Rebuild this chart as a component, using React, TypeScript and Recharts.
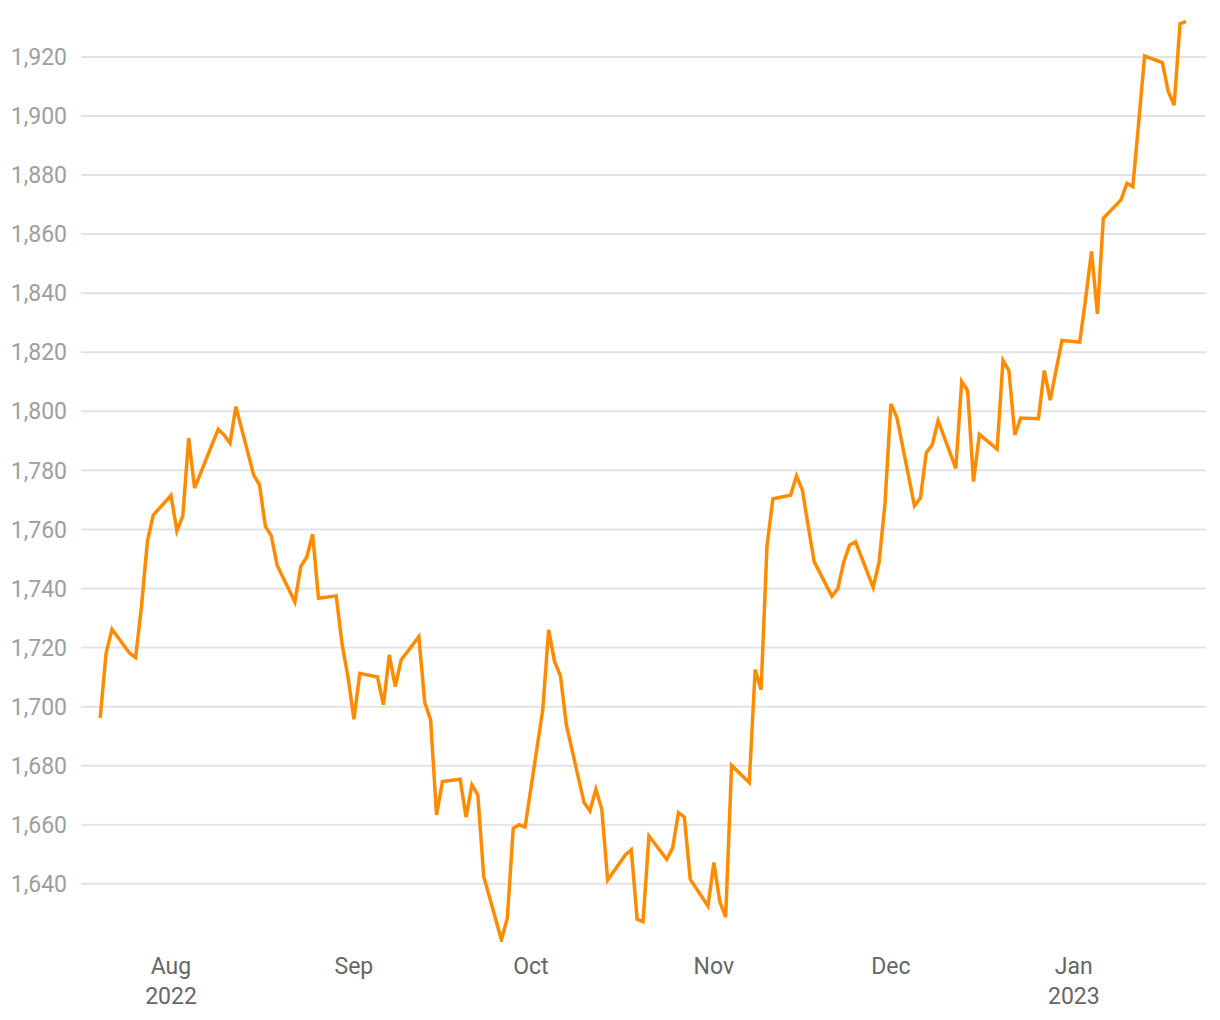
import React from "react"
import { Line, LineChart, ReferenceLine, XAxis, YAxis } from "recharts"

const DAY = 86400000

// trading days and closing values
const dates: string[] = [
  "2022-07-20", "2022-07-21", "2022-07-22", "2022-07-25", "2022-07-26", "2022-07-27", "2022-07-28", "2022-07-29",
  "2022-08-01", "2022-08-02", "2022-08-03", "2022-08-04", "2022-08-05", "2022-08-08", "2022-08-09", "2022-08-10",
  "2022-08-11", "2022-08-12", "2022-08-15", "2022-08-16", "2022-08-17", "2022-08-18", "2022-08-19", "2022-08-22",
  "2022-08-23", "2022-08-24", "2022-08-25", "2022-08-26", "2022-08-29", "2022-08-30", "2022-08-31", "2022-09-01",
  "2022-09-02", "2022-09-05", "2022-09-06", "2022-09-07", "2022-09-08", "2022-09-09", "2022-09-12", "2022-09-13",
  "2022-09-14", "2022-09-15", "2022-09-16", "2022-09-19", "2022-09-20", "2022-09-21", "2022-09-22", "2022-09-23",
  "2022-09-26", "2022-09-27", "2022-09-28", "2022-09-29", "2022-09-30", "2022-10-03", "2022-10-04", "2022-10-05",
  "2022-10-06", "2022-10-07", "2022-10-10", "2022-10-11", "2022-10-12", "2022-10-13", "2022-10-14", "2022-10-17",
  "2022-10-18", "2022-10-19", "2022-10-20", "2022-10-21", "2022-10-24", "2022-10-25", "2022-10-26", "2022-10-27",
  "2022-10-28", "2022-10-31", "2022-11-01", "2022-11-02", "2022-11-03", "2022-11-04", "2022-11-07", "2022-11-08",
  "2022-11-09", "2022-11-10", "2022-11-11", "2022-11-14", "2022-11-15", "2022-11-16", "2022-11-17", "2022-11-18",
  "2022-11-21", "2022-11-22", "2022-11-23", "2022-11-24", "2022-11-25", "2022-11-28", "2022-11-29", "2022-11-30",
  "2022-12-01", "2022-12-02", "2022-12-05", "2022-12-06", "2022-12-07", "2022-12-08", "2022-12-09", "2022-12-12",
  "2022-12-13", "2022-12-14", "2022-12-15", "2022-12-16", "2022-12-19", "2022-12-20", "2022-12-21", "2022-12-22",
  "2022-12-23", "2022-12-26", "2022-12-27", "2022-12-28", "2022-12-29", "2022-12-30", "2023-01-02", "2023-01-03",
  "2023-01-04", "2023-01-05", "2023-01-06", "2023-01-09", "2023-01-10", "2023-01-11", "2023-01-12", "2023-01-13",
  "2023-01-16", "2023-01-17", "2023-01-18", "2023-01-19", "2023-01-20",
]

const prices: number[] = [
  1696.2, 1718.1, 1726.2, 1718.1, 1716.6, 1733.9, 1755.9, 1764.9,
  1771.5, 1759.5, 1764.6, 1790.9, 1774.0, 1789.0, 1793.9, 1792.0,
  1789.2, 1801.6, 1778.5, 1775.1, 1761.0, 1757.8, 1747.8, 1735.4,
  1747.5, 1750.6, 1758.4, 1736.7, 1737.5, 1721.0, 1710.0, 1695.7,
  1711.3, 1710.0, 1700.6, 1717.5, 1706.8, 1715.8, 1723.7, 1701.4,
  1695.5, 1663.3, 1674.6, 1675.4, 1662.6, 1673.5, 1670.1, 1642.5,
  1621.0, 1628.4, 1658.8, 1660.0, 1659.2, 1698.9, 1726.0, 1715.3,
  1710.4, 1693.8, 1667.5, 1664.7, 1672.0, 1665.3, 1641.3, 1649.8,
  1651.5, 1628.0, 1627.2, 1656.2, 1648.3, 1652.1, 1664.1, 1662.6,
  1641.5, 1632.5, 1647.2, 1634.0, 1628.7, 1680.1, 1674.3, 1712.5,
  1705.7, 1754.3, 1770.4, 1771.6, 1778.1, 1773.3, 1761.0, 1749.1,
  1737.4, 1739.9, 1748.9, 1754.7, 1755.8, 1740.4, 1748.9, 1768.8,
  1802.5, 1798.0, 1768.0, 1770.6, 1786.0, 1788.6, 1796.8, 1780.7,
  1810.1, 1807.0, 1776.2, 1792.2, 1787.2, 1817.2, 1813.8, 1792.0,
  1797.7, 1797.5, 1813.8, 1803.8, 1814.0, 1824.0, 1823.4, 1838.0,
  1854.1, 1833.0, 1865.4, 1871.6, 1877.2, 1876.1, 1898.0, 1920.3,
  1918.1, 1908.3, 1903.7, 1931.2, 1932.0,
]

const monthTicks: string[] = ["2022-08-01", "2022-09-01", "2022-10-01", "2022-11-01", "2022-12-01", "2023-01-01"]
const monthLabels: string[][] = [["Aug", "2022"], ["Sep"], ["Oct"], ["Nov"], ["Dec"], ["Jan", "2023"]]
const priceTicks: number[] = [1640, 1660, 1680, 1700, 1720, 1740, 1760, 1780, 1800, 1820, 1840, 1860, 1880, 1900, 1920]

const toTime = (d: string) => new Date(d + "T00:00:00Z").getTime()

const data = dates.map((d, i) => ({ t: toTime(d), price: prices[i] }))
const xTicks = monthTicks.map(toTime)
const xDomain = [toTime("2022-07-20") - 3.25 * DAY, toTime("2023-01-20") + 3.4 * DAY]

const FONT = "Roboto, 'Noto Sans', sans-serif"

function MonthTick(props: any) {
  const { x, y, payload } = props
  const idx = xTicks.indexOf(payload.value)
  const lines = monthLabels[idx] || []
  return (
    <g>
      {lines.map((line, i) => (
        <text
          key={i}
          x={x}
          y={y + 32 + i * 30}
          textAnchor="middle"
          fill="#666666"
          fontSize={23}
          fontFamily={FONT}
        >
          {line}
        </text>
      ))}
    </g>
  )
}

export default function App() {
  return (
    <div style={{ position: "absolute", left: 0, top: 0, width: 1220, height: 1020, background: "#fff" }}>
      <LineChart width={1220} height={1020} data={data} margin={{ top: 20, right: 14, bottom: 0, left: 0 }}>
        <XAxis
          dataKey="t"
          type="number"
          scale="time"
          domain={xDomain}
          ticks={xTicks}
          axisLine={false}
          tickLine={false}
          tickSize={0}
          tickMargin={0}
          height={78}
          interval={0}
          tick={<MonthTick />}
        />
        <YAxis
          type="number"
          domain={[1620.3, 1932.5]}
          ticks={priceTicks}
          allowDataOverflow
          axisLine={false}
          tickLine={false}
          tickSize={0}
          tickMargin={14}
          width={81}
          interval={0}
          tickFormatter={(v: number) => v.toLocaleString("en-US")}
          tick={{ fill: "#9e9e9e", fontSize: 23, fontFamily: FONT }}
        />
        {priceTicks.map((v) => (
          <ReferenceLine key={v} y={v} stroke="#e3e3e3" strokeWidth={2} />
        ))}
        <Line
          type="linear"
          dataKey="price"
          stroke="#ff8c00"
          strokeWidth={3.5}
          dot={false}
          isAnimationActive={false}
        />
      </LineChart>
    </div>
  )
}
